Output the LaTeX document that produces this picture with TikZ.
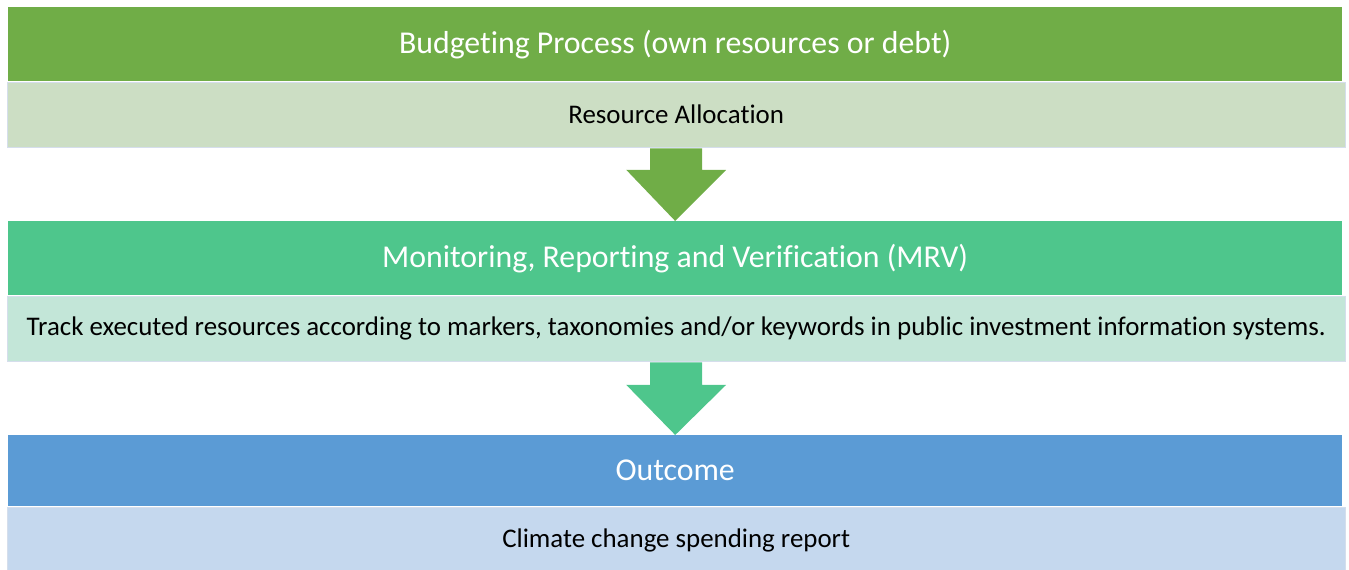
\documentclass[tikz,border=0pt]{standalone}
\usepackage{fontspec}
\setmainfont[Ligatures={NoCommon}]{Carlito}
\usetikzlibrary{calc}
\definecolor{gA}{HTML}{70AD47}
\definecolor{gAl}{HTML}{CCDEC4}
\definecolor{gB}{HTML}{4EC68C}
\definecolor{gBl}{HTML}{C3E6D8}
\definecolor{bC}{HTML}{5B9BD5}
\definecolor{bCl}{HTML}{C5D8EE}
\definecolor{edgeL}{HTML}{D5DEEC}
\tikzset{
  head/.style={rectangle, inner sep=0pt, minimum width=1334pt, text=white, font=\fontsize{31.8}{36}\selectfont},
  body/.style={rectangle, inner sep=0pt, minimum width=1338pt, draw=edgeL, line width=1.2pt, text=black, font=\fontsize{26.9}{32}\selectfont},
}
\begin{document}
\begin{tikzpicture}[x=1pt,y=1pt]
\useasboundingbox (0,0) rectangle (1349,-570);
% block 1
\node[head, fill=gA, minimum height=74pt, anchor=north west] (h1) at (8,-7) {Budgeting Process (own resources or debt)};
\node[body, fill=gAl, minimum height=65pt, anchor=north west] (b1) at (6.6,-81.6) {Resource Allocation};
% block 2
\node[head, fill=gB, minimum height=74pt, anchor=north west] (h2) at (8,-221) {Monitoring, Reporting and Verification (MRV)};
\node[body, fill=gBl, minimum height=65pt, anchor=north west] (b2) at (6.6,-295.6) {Track executed resources according to markers, taxonomies and/or keywords in public investment information systems.};
% block 3
\node[head, fill=bC, minimum height=71pt, anchor=north west] (h3) at (8,-435) {Outcome};
\node[body, fill=bCl, minimum height=66pt, anchor=north west] (b3) at (6.6,-506.6) {Climate change spending report};
% arrows
\fill[gA] ($(b1.south)+(-26,-0.6)$) -- ($(b1.south)+(26,-0.6)$) -- ($(b1.south)+(26,-22)$) -- ($(b1.south)+(50,-22)$) -- (h2.north) -- ($(b1.south)+(-50,-22)$) -- ($(b1.south)+(-26,-22)$) -- cycle;
\fill[gB] ($(b2.south)+(-26,-0.6)$) -- ($(b2.south)+(26,-0.6)$) -- ($(b2.south)+(26,-23)$) -- ($(b2.south)+(50,-23)$) -- (h3.north) -- ($(b2.south)+(-50,-23)$) -- ($(b2.south)+(-26,-23)$) -- cycle;
\end{tikzpicture}
\end{document}
